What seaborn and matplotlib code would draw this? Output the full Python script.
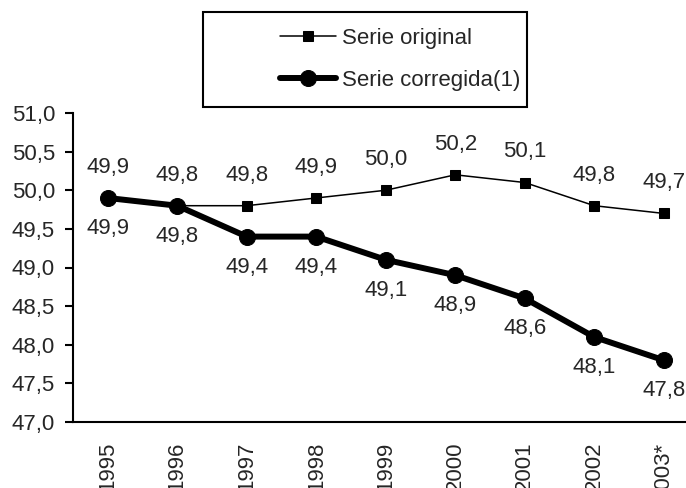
import matplotlib
matplotlib.use('Agg')
import matplotlib.pyplot as plt
from matplotlib.patches import Rectangle
from matplotlib.ticker import FuncFormatter
import numpy as np
import seaborn as sns

# Data
years = ['1995', '1996', '1997', '1998', '1999', '2000', '2001', '2002', '2003*']
serie_original = [49.9, 49.8, 49.8, 49.9, 50.0, 50.2, 50.1, 49.8, 49.7]
serie_corregida = [49.9, 49.8, 49.4, 49.4, 49.1, 48.9, 48.6, 48.1, 47.8]
y_ticks = [47.0, 47.5, 48.0, 48.5, 49.0, 49.5, 50.0, 50.5, 51.0]

sns.set_style('white')
plt.rcParams['font.family'] = ['Liberation Sans', 'DejaVu Sans']
fs = 16

def coma(v, pos=None):
    return f'{v:.1f}'.replace('.', ',')

fig = plt.figure(figsize=(6.86, 4.88), dpi=100)
ax = fig.add_axes([73 / 686, 66 / 488, 625.5 / 686, 309 / 488])

sns.lineplot(x=years, y=serie_original, sort=False, ax=ax, color='black',
             linewidth=1.1, marker='s', markersize=7, markeredgecolor='black',
             label='Serie original')
sns.lineplot(x=years, y=serie_corregida, sort=False, ax=ax, color='black',
             linewidth=4.3, marker='o', markersize=11.5, markeredgecolor='black',
             label='Serie corregida(1)')

# value labels: original above, corrected below
for i, v in enumerate(serie_original):
    ax.annotate(coma(v), (i, v), xytext=(0, 22), textcoords='offset points',
                ha='center', va='center', fontsize=fs)
for i, v in enumerate(serie_corregida):
    ax.annotate(coma(v), (i, v), xytext=(0, -22), textcoords='offset points',
                ha='center', va='center', fontsize=fs)

ax.set_xlim(-0.5, 8.5)
ax.set_ylim(47, 51)
ax.set_yticks(y_ticks)
ax.yaxis.set_major_formatter(FuncFormatter(coma))
ax.set_xticks(range(len(years)))
ax.set_xticklabels(years, rotation=90)
ax.set_xticks(np.arange(-0.5, len(years), 1), minor=True)
ax.tick_params(axis='x', which='major', length=0, pad=14, labelsize=fs)
ax.tick_params(axis='x', which='minor', length=6, width=1.5, direction='out', color='black')
ax.tick_params(axis='y', length=6, width=1.5, direction='out', color='black',
               pad=7, labelsize=fs, left=True)
ax.set_xlabel('')
ax.set_ylabel('')
for s in ['top', 'right']:
    ax.spines[s].set_visible(False)
for s in ['left', 'bottom']:
    ax.spines[s].set_color('black')
    ax.spines[s].set_linewidth(1.5)

# legend in a box above the plot
ax.get_legend().remove()
h, l = ax.get_legend_handles_labels()
fig.legend(h, l, loc='upper left', bbox_to_anchor=(280 / 686, 1 - 28 / 488),
           frameon=False, fontsize=fs, borderpad=0, borderaxespad=0,
           handlelength=2.5, handletextpad=0.3, labelspacing=0.95)
fig.patches.append(Rectangle((203 / 686, 1 - 107 / 488), 324 / 686, 95 / 488,
                             transform=fig.transFigure, fill=False,
                             edgecolor='black', linewidth=1.5))

fig.savefig('out.png', dpi=100)
